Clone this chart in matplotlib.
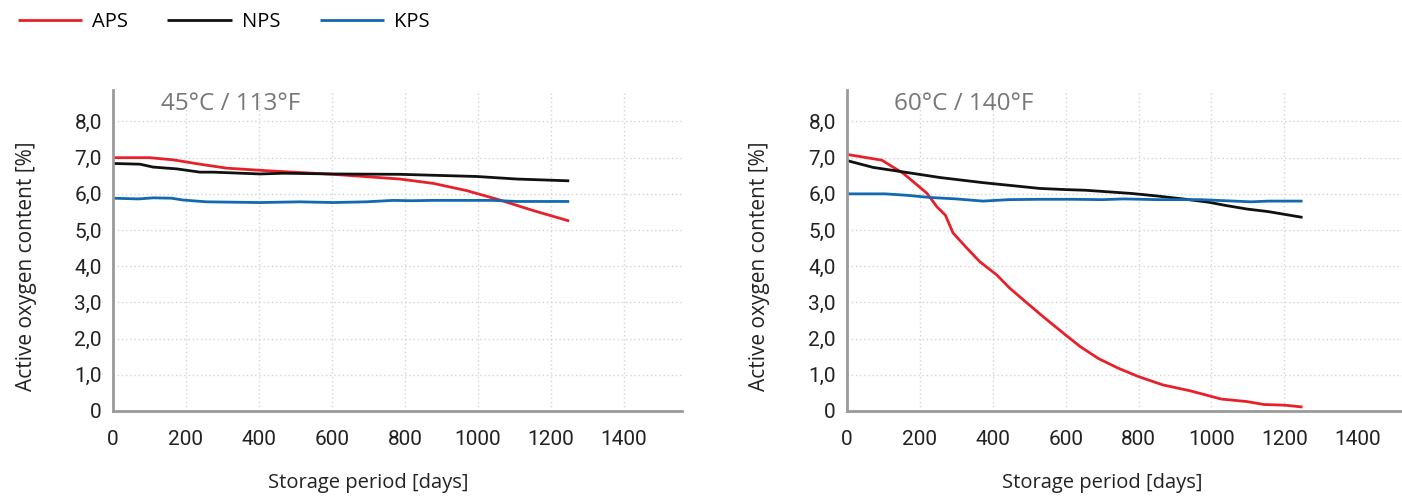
import matplotlib
matplotlib.use("Agg")
import matplotlib.pyplot as plt
from matplotlib import font_manager
from matplotlib.ticker import FixedLocator, FuncFormatter

# 45 C / 113 F
days_45_aps = [0, 100, 165, 238, 312, 421, 603, 786, 877, 969, 1060, 1151, 1250]
aps_45 = [7.0, 7.0, 6.94, 6.82, 6.71, 6.64, 6.54, 6.41, 6.29, 6.09, 5.83, 5.54, 5.25]
days_45_nps = [0, 74, 110, 175, 238, 275, 403, 467, 603, 786, 997, 1106, 1250]
nps_45 = [6.84, 6.82, 6.74, 6.69, 6.60, 6.60, 6.55, 6.57, 6.55, 6.54, 6.48, 6.41, 6.36]
days_45_kps = [0, 70, 110, 160, 192, 256, 403, 512, 603, 694, 768, 820, 877, 1041, 1105, 1250]
kps_45 = [5.88, 5.86, 5.89, 5.88, 5.83, 5.78, 5.76, 5.78, 5.76, 5.78, 5.82, 5.81, 5.82, 5.82, 5.79, 5.79]

# 60 C / 140 F
days_60_aps = [0, 96, 110, 154, 186, 219, 247, 270, 291, 329, 365, 411, 446, 484, 539,
               600, 640, 690, 745, 800, 867, 941, 1027, 1098, 1144, 1203, 1250]
aps_60 = [7.09, 6.93, 6.84, 6.57, 6.30, 6.02, 5.64, 5.41, 4.92, 4.50, 4.12, 3.76, 3.40, 3.07, 2.60,
          2.10, 1.78, 1.45, 1.18, 0.95, 0.72, 0.56, 0.33, 0.26, 0.18, 0.16, 0.11]
days_60_nps = [0, 72, 165, 256, 373, 529, 595, 654, 712, 782, 852, 922, 992, 1039, 1098, 1156, 1250]
nps_60 = [6.92, 6.73, 6.59, 6.45, 6.31, 6.15, 6.12, 6.10, 6.06, 6.01, 5.94, 5.86, 5.77, 5.68, 5.58, 5.51, 5.35]
days_60_kps = [0, 105, 165, 228, 300, 373, 444, 529, 620, 700, 760, 852, 969, 1109, 1156, 1250]
kps_60 = [6.0, 6.0, 5.96, 5.90, 5.86, 5.80, 5.84, 5.85, 5.85, 5.84, 5.86, 5.84, 5.84, 5.78, 5.80, 5.80]

titles = ["45\u00b0C / 113\u00b0F", "60\u00b0C / 140\u00b0F"]
series_names = ["APS", "NPS", "KPS"]
colors = ["#e8202a", "#111111", "#1269b0"]

installed = {f.name for f in font_manager.fontManager.ttflist}
narrow = "Liberation Sans Narrow" if "Liberation Sans Narrow" in installed else "Roboto"
plt.rcParams["font.family"] = ["Open Sans", "DejaVu Sans"]

fig = plt.figure(figsize=(14.02, 4.97), dpi=100)
axes = [
    fig.add_axes([113 / 1402, 86 / 497, 569 / 1402, 321 / 497]),
    fig.add_axes([847 / 1402, 86 / 497, 555 / 1402, 321 / 497]),
]
xmaxes = [1559, 1523]
ylab_x = [-0.134, -0.139]
data = [
    [(days_45_aps, aps_45), (days_45_nps, nps_45), (days_45_kps, kps_45)],
    [(days_60_aps, aps_60), (days_60_nps, nps_60), (days_60_kps, kps_60)],
]

for i, ax in enumerate(axes):
    for (d, v), name, c in zip(data[i], series_names, colors):
        ax.plot(d, v, color=c, lw=2.0, label=name, solid_capstyle="butt")
    ax.set_xlim(0, xmaxes[i])
    ax.set_ylim(0, 8.87)
    for s in ["top", "right"]:
        ax.spines[s].set_visible(False)
    for s in ["left", "bottom"]:
        ax.spines[s].set_color("#9a9a9a")
        ax.spines[s].set_linewidth(2.0)
    ax.xaxis.set_major_locator(FixedLocator(range(0, 1401, 200)))
    ax.yaxis.set_major_locator(FixedLocator(range(0, 9)))
    ax.yaxis.set_major_formatter(FuncFormatter(lambda v, p: "0" if v == 0 else f"{v:.1f}".replace(".", ",")))
    ax.tick_params(length=0, labelsize=15, colors="#222222", pad=8)
    ax.tick_params(axis="x", pad=14)
    for lab in ax.get_xticklabels() + ax.get_yticklabels():
        lab.set_family([narrow, "DejaVu Sans"])
    # dotted grid, skipping the axis lines themselves
    gx = [200, 400, 600, 800, 1000, 1200] + ([1400] if i == 0 else [])
    for x in gx:
        ax.axvline(x, color="#d4d4d4", lw=1.0, ls=(0, (1, 2)), zorder=0)
    for y in range(1, 9):
        ax.axhline(y, color="#d4d4d4", lw=1.0, ls=(0, (1, 2)), zorder=0)
    ax.text(0.085, 0.955, titles[i], transform=ax.transAxes,
            fontsize=17.5, color="#777777", ha="left", va="center")
    ax.set_ylabel("Active oxygen content [%]", fontsize=15, color="#222222")
    ax.set_xlabel("Storage period [days]", fontsize=14.5, color="#222222")
    ax.xaxis.set_label_coords(700 / xmaxes[i], -0.192)
    ax.yaxis.set_label_coords(ylab_x[i], 4 / 8.87)

fig.legend(*axes[0].get_legend_handles_labels(), loc="upper left", bbox_to_anchor=(0.004, 1.0),
           ncol=3, frameon=False, fontsize=14.5, handlelength=3.2, columnspacing=1.95,
           handletextpad=0.5, borderaxespad=0.2)

fig.savefig("out.png", dpi=100)
